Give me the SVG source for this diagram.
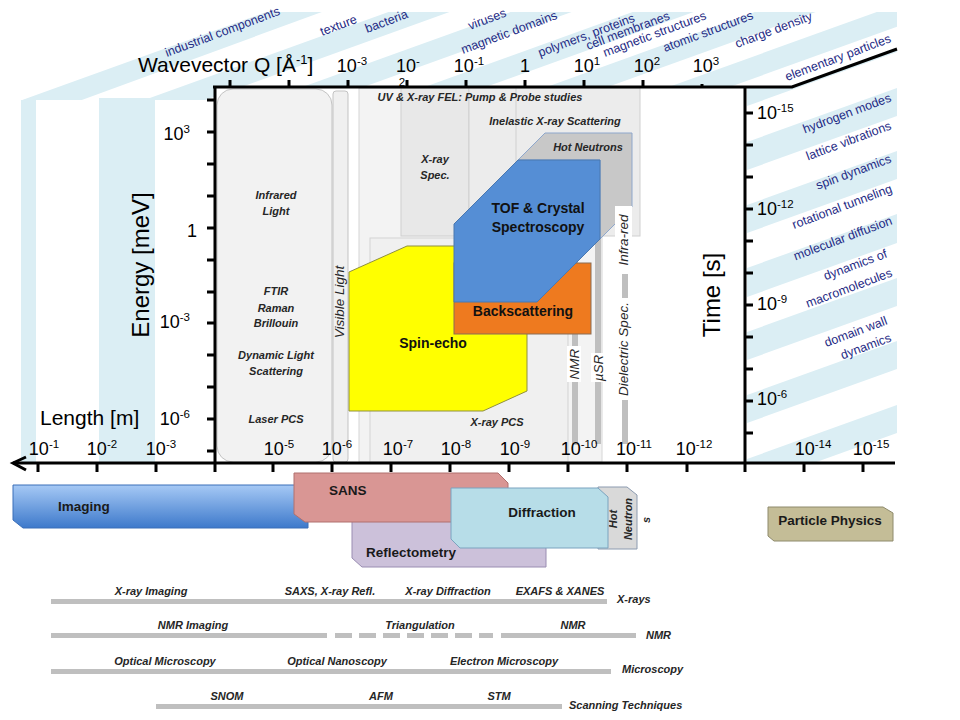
<svg xmlns="http://www.w3.org/2000/svg" width="960" height="720" viewBox="0 0 960 720">
<defs>
<style>
text{font-family:"Liberation Sans",Arial,sans-serif}
.ax{font-size:18px;fill:#000}
.sp{font-size:11.5px}
.ttl{font-size:24px;fill:#000}
.nv{font-size:12.5px;fill:#1f2b85}
.it{font-size:11px;font-style:italic;font-weight:bold;fill:#262626}
.iv{font-size:13.5px;font-style:italic;fill:#262626}
.bd{font-size:13.5px;font-weight:bold;fill:#1a1a1a}
.pb{font-size:14px;font-weight:bold;fill:#111}
.ln{stroke:#000;stroke-width:3;fill:none}
.bar{fill:#bfbfbf}
.lb{fill:#dbeef4}
</style>
<linearGradient id="gImg" x1="0" y1="0" x2="0" y2="1"><stop offset="0" stop-color="#a6c9f5"/><stop offset="1" stop-color="#3d79cb"/></linearGradient>
<clipPath id="cTop"><polygon points="21,100 247,12 897,12 897,49 792,87 215,87 215,100"/></clipPath>
<clipPath id="cRight"><polygon points="747,88 792,88 897,50 897,463 747,463"/></clipPath>
</defs>
<rect width="960" height="720" fill="#fff"/>

<g id="bands">
<rect class="lb" x="21" y="100" width="15" height="363"/>
<rect class="lb" x="99" y="98" width="56" height="365"/>
<g clip-path="url(#cTop)">
<polygon class="lb" points="0,108 960,-238 960,-222 0,130"/>
<polygon class="lb" points="0,152 960,-194 960,-172 0,174"/>
<polygon class="lb" points="0,196 960,-150 960,-128 0,218"/>
<polygon class="lb" points="0,240 960,-106 960,-84 0,262"/>
<polygon class="lb" points="0,284 960,-62 960,-40 0,306"/>
<polygon class="lb" points="0,328 960,-18 960,4 0,350"/>
</g>
<g clip-path="url(#cRight)">
<polygon class="lb" points="747,78 897,24 897,52 747,106"/>
<polygon class="lb" points="747,142 897,88 897,116 747,170"/>
<polygon class="lb" points="747,205 897,151 897,179 747,233"/>
<polygon class="lb" points="747,268 897,214 897,243 747,297"/>
<polygon class="lb" points="747,332 897,278 897,306 747,360"/>
<polygon class="lb" points="747,395 897,341 897,369 747,423"/>
<polygon class="lb" points="747,459 897,405 897,433 747,487"/>
</g>
</g>

<g id="scale-labels">
<text class="nv" transform="translate(167,57) rotate(-20.5)">industrial  components</text>
<text class="nv" transform="translate(322,36) rotate(-20.5)">texture</text>
<text class="nv" transform="translate(367,33) rotate(-20.5)">bacteria</text>
<text class="nv" transform="translate(470,30) rotate(-20.5)">viruses</text>
<text class="nv" transform="translate(463,54) rotate(-20.5)">magnetic domains</text>
<text class="nv" transform="translate(540,57) rotate(-20.5)">polymers, proteins</text>
<text class="nv" transform="translate(588,50) rotate(-20.5)">cell membranes</text>
<text class="nv" transform="translate(605,57) rotate(-20.5)">magnetic structures</text>
<text class="nv" transform="translate(665,52) rotate(-20.5)">atomic structures</text>
<text class="nv" transform="translate(737,48) rotate(-20.5)">charge density</text>
<text class="nv" transform="translate(787,81) rotate(-20.5)">elementary  particles</text>
<text class="nv" text-anchor="end" transform="translate(892,101) rotate(-20.5)">hydrogen  modes</text>
<text class="nv" text-anchor="end" transform="translate(892,129) rotate(-20.5)">lattice vibrations</text>
<text class="nv" text-anchor="end" transform="translate(892,162) rotate(-20.5)">spin dynamics</text>
<text class="nv" text-anchor="end" transform="translate(893,192) rotate(-20.5)">rotational tunneling</text>
<text class="nv" text-anchor="end" transform="translate(893,224) rotate(-20.5)">molecular diffusion</text>
<text class="nv" text-anchor="end" transform="translate(888,257) rotate(-20.5)">dynamics of</text>
<text class="nv" text-anchor="end" transform="translate(893,276) rotate(-20.5)">macromolecules</text>
<text class="nv" text-anchor="end" transform="translate(888,324) rotate(-20.5)">domain wall</text>
<text class="nv" text-anchor="end" transform="translate(892,341) rotate(-20.5)">dynamics</text>
</g>

<g id="plot-regions">
<rect id="fel" x="359" y="88" width="243" height="374" fill="#f3f3f3" stroke="#d6d6d6"/>
<rect id="xpcs" x="370" y="238" width="198" height="224" fill="#f0f0f0" stroke="#d3d3d3"/>
<rect id="xspec" x="401" y="88" width="68" height="148" fill="#e8e8e8" stroke="#cfcfcf"/>
<rect id="inel" x="469" y="88" width="171" height="148" fill="#ececec" stroke="#d0d0d0"/>
<line x1="516" y1="88" x2="516" y2="236" stroke="#d0d0d0"/>
<rect id="infrared" x="217" y="89" width="115" height="373" rx="16" fill="#f2f2f2" stroke="#c3c3c3"/>
<rect id="visible" x="333" y="91" width="15" height="371" rx="3" fill="#f0f0f0" stroke="#c3c3c3"/>
</g>

<g id="vbars">
<rect class="bar" x="572" y="236" width="6" height="209"/>
<rect class="bar" x="595" y="237" width="6" height="207"/>
<rect class="bar" x="622" y="202" width="6" height="242"/>
</g>

<g id="hot-neutrons-plot">
<polygon points="545,133 632,133 632,207 600,239 600,160 518,160" fill="#c8c8c8" stroke="#8ea7cc"/>
</g>
<g id="spin-echo">
<polygon points="349,272 407,246 527,246 527,391 483,411 349,411" fill="#ffff00" stroke="#8f8f40"/>
</g>
<g id="backscattering">
<rect x="454" y="263" width="137" height="71" fill="#ee7a1f" stroke="#8a6d55"/>
</g>
<g id="tof">
<polygon points="518,160 600,160 600,239 537,302 454,302 454,224" fill="#558ed5" stroke="#4a78b0"/>
</g>

<g id="plot-labels">
<text class="it" x="480" y="101" text-anchor="middle">UV &amp; X-ray FEL: Pump &amp; Probe studies</text>
<text class="it" x="555" y="125" text-anchor="middle">Inelastic X-ray Scattering</text>
<text class="it" x="588" y="151" text-anchor="middle">Hot Neutrons</text>
<text class="it" x="435" y="163" text-anchor="middle">X-ray</text>
<text class="it" x="435" y="179" text-anchor="middle">Spec.</text>
<text class="it" x="276" y="199" text-anchor="middle">Infrared</text>
<text class="it" x="276" y="215" text-anchor="middle">Light</text>
<text class="it" x="276" y="295" text-anchor="middle">FTIR</text>
<text class="it" x="276" y="312" text-anchor="middle">Raman</text>
<text class="it" x="276" y="327" text-anchor="middle">Brillouin</text>
<text class="it" x="276" y="359" text-anchor="middle">Dynamic Light</text>
<text class="it" x="276" y="375" text-anchor="middle">Scattering</text>
<text class="it" x="276" y="423" text-anchor="middle">Laser PCS</text>
<text class="it" x="497" y="426" text-anchor="middle">X-ray PCS</text>
<text class="iv" text-anchor="middle" transform="translate(344,302) rotate(-90)">Visible  Light</text>
<rect x="567" y="346" width="14" height="36" fill="#fff"/>
<text class="iv" text-anchor="middle" transform="translate(579,364) rotate(-90)">NMR</text>
<rect x="591" y="353" width="14" height="29" fill="#fff"/>
<text class="iv" text-anchor="middle" transform="translate(603,368) rotate(-90)">µSR</text>
<rect x="615" y="298" width="17" height="102" fill="#fff"/>
<text class="iv" text-anchor="middle" transform="translate(628,349) rotate(-90)">Dielectric Spec.</text>
<rect x="615" y="206" width="17" height="68" fill="#fff"/>
<text class="iv" text-anchor="middle" transform="translate(628,240) rotate(-90)">Infra-red</text>
<text class="pb" x="538" y="213" text-anchor="middle" fill="#0f1d3d">TOF &amp; Crystal</text>
<text class="pb" x="538" y="232" text-anchor="middle" fill="#0f1d3d">Spectroscopy</text>
<text class="pb" x="523" y="316" text-anchor="middle">Backscattering</text>
<text class="pb" x="433" y="348" text-anchor="middle">Spin-echo</text>
</g>

<g id="axes">
<polyline class="ln" points="213,87 792,87 897,49"/>
<line class="ln" x1="215" y1="86" x2="215" y2="472"/>
<line class="ln" x1="745" y1="86" x2="745" y2="472"/>
<line class="ln" x1="13" y1="463" x2="895" y2="463"/>
<polyline class="ln" points="26,457 13,463 26,470"/>
<path class="ln" d="M230,87V80M289,87V80M348,87V80M407,87V80M466,87V80M525,87V80M584,87V80M643,87V80M702,87V84"/>
<path class="ln" d="M207,100H215M207,132H215M207,164H215M207,196H215M207,228H215M207,260H215M207,292H215M207,323H215M207,355H215M207,387H215M207,419H215M207,451H215"/>
<path class="ln" d="M745,113H753M745,145H753M745,177H753M745,209H753M745,241H753M745,273H753M745,305H753M745,337H753M745,369H753M745,401H753M745,433H753"/>
<path class="ln" d="M38,463V472M97,463V472M156,463V472M273,463V472M332,463V472M391,463V472M450,463V472M509,463V472M568,463V472M627,463V472M687,463V472M804,463V472M863,463V472"/>
</g>

<g id="axis-labels">
<text x="138" y="72" style="font-size:21px;fill:#000">Wavevector Q [Å<tspan style="font-size:13px" dy="-8">-1</tspan><tspan dy="8">]</tspan></text>
<text class="ax" x="352" y="72" text-anchor="middle">10<tspan class="sp" dy="-7">-3</tspan></text>
<text class="ax" x="408" y="72" text-anchor="middle">10<tspan class="sp" dy="-7">-</tspan></text>
<text class="sp" x="402" y="86" text-anchor="middle">2</text>
<text class="ax" x="469" y="72" text-anchor="middle">10<tspan class="sp" dy="-7">-1</tspan></text>
<text class="ax" x="525" y="72" text-anchor="middle">1</text>
<text class="ax" x="587" y="72" text-anchor="middle">10<tspan class="sp" dy="-7">1</tspan></text>
<text class="ax" x="647" y="72" text-anchor="middle">10<tspan class="sp" dy="-7">2</tspan></text>
<text class="ax" x="706" y="72" text-anchor="middle">10<tspan class="sp" dy="-7">3</tspan></text>
<text class="ttl" text-anchor="middle" transform="translate(149,265) rotate(-90)">Energy [meV]</text>
<text class="ax" x="190" y="140" text-anchor="end">10<tspan class="sp" dy="-7">3</tspan></text>
<text class="ax" x="197" y="237" text-anchor="end">1</text>
<text class="ax" x="190" y="328" text-anchor="end">10<tspan class="sp" dy="-7">-3</tspan></text>
<text class="ax" x="190" y="425" text-anchor="end">10<tspan class="sp" dy="-7">-6</tspan></text>
<text x="40" y="425" style="font-size:21px;fill:#000">Length [m]</text>
<text class="ttl" text-anchor="middle" transform="translate(720,295) rotate(-90)">Time [s]</text>
<text class="ax" x="757" y="119">10<tspan class="sp" dy="-7">-15</tspan></text>
<text class="ax" x="757" y="215">10<tspan class="sp" dy="-7">-12</tspan></text>
<text class="ax" x="757" y="310">10<tspan class="sp" dy="-7">-9</tspan></text>
<text class="ax" x="757" y="405">10<tspan class="sp" dy="-7">-6</tspan></text>
<text class="ax" x="44" y="455" text-anchor="middle">10<tspan class="sp" dy="-7">-1</tspan></text>
<text class="ax" x="102" y="455" text-anchor="middle">10<tspan class="sp" dy="-7">-2</tspan></text>
<text class="ax" x="161" y="455" text-anchor="middle">10<tspan class="sp" dy="-7">-3</tspan></text>
<text class="ax" x="279" y="455" text-anchor="middle">10<tspan class="sp" dy="-7">-5</tspan></text>
<text class="ax" x="337" y="455" text-anchor="middle">10<tspan class="sp" dy="-7">-6</tspan></text>
<text class="ax" x="398" y="455" text-anchor="middle">10<tspan class="sp" dy="-7">-7</tspan></text>
<text class="ax" x="456" y="455" text-anchor="middle">10<tspan class="sp" dy="-7">-8</tspan></text>
<text class="ax" x="515" y="455" text-anchor="middle">10<tspan class="sp" dy="-7">-9</tspan></text>
<text class="ax" x="579" y="455" text-anchor="middle">10<tspan class="sp" dy="-7">-10</tspan></text>
<text class="ax" x="634" y="455" text-anchor="middle">10<tspan class="sp" dy="-7">-11</tspan></text>
<text class="ax" x="694" y="455" text-anchor="middle">10<tspan class="sp" dy="-7">-12</tspan></text>
<text class="ax" x="813" y="455" text-anchor="middle">10<tspan class="sp" dy="-7">-14</tspan></text>
<text class="ax" x="871" y="455" text-anchor="middle">10<tspan class="sp" dy="-7">-15</tspan></text>
</g>

<g id="imaging">
<path d="M13,485H308V528H23L13,520Z" fill="url(#gImg)" stroke="#3b6fb8"/>
<text class="bd" x="58" y="511">Imaging</text>
</g>
<g id="reflectometry">
<path d="M352,515H546V567H362L352,558Z" fill="#ccc1da" stroke="#9a8db2"/>
<text class="bd" x="366" y="557">Reflectometry</text>
</g>
<g id="sans">
<path d="M294,473H498L508,483V522H305L294,514Z" fill="#d99694" stroke="#b0706e"/>
<text class="bd" x="329" y="495">SANS</text>
</g>
<g id="hot-neutrons">
<path d="M598,487H627L637,495V549H598Z" fill="#d9d9d9" stroke="#8c9bb0"/>
<text class="it" text-anchor="middle" transform="translate(617,519) rotate(-90)">Hot</text>
<text class="it" text-anchor="middle" transform="translate(632,519) rotate(-90)">Neutron</text>
<text class="it" text-anchor="middle" transform="translate(650,520) rotate(-90)">s</text>
</g>
<g id="diffraction">
<path d="M451,488H598L608,497V548H460L451,539Z" fill="#b7dde8" stroke="#7aa3bf"/>
<text class="bd" x="542" y="517" text-anchor="middle">Diffraction</text>
</g>
<g id="particle-physics">
<path d="M768,507H883L893,513V541H774L768,536Z" fill="#c4bd97" stroke="#8e8a6c"/>
<text class="bd" x="830" y="525" text-anchor="middle">Particle Physics</text>
</g>

<g id="techniques">
<rect class="bar" x="51" y="599" width="556" height="5"/>
<text class="it" x="151" y="595" text-anchor="middle">X-ray Imaging</text>
<text class="it" x="330" y="595" text-anchor="middle">SAXS, X-ray Refl.</text>
<text class="it" x="448" y="595" text-anchor="middle">X-ray Diffraction</text>
<text class="it" x="560" y="595" text-anchor="middle">EXAFS &amp; XANES</text>
<text class="it" x="617" y="603">X-rays</text>
<rect class="bar" x="51" y="633" width="276" height="5"/>
<path d="M335,635.5H493" stroke="#bfbfbf" stroke-width="5" stroke-dasharray="17,7"/>
<rect class="bar" x="501" y="633" width="135" height="5"/>
<text class="it" x="193" y="629" text-anchor="middle">NMR Imaging</text>
<text class="it" x="420" y="629" text-anchor="middle">Triangulation</text>
<text class="it" x="573" y="629" text-anchor="middle">NMR</text>
<text class="it" x="646" y="639">NMR</text>
<rect class="bar" x="51" y="669" width="560" height="5"/>
<text class="it" x="165" y="665" text-anchor="middle">Optical Microscopy</text>
<text class="it" x="337" y="665" text-anchor="middle">Optical Nanoscopy</text>
<text class="it" x="504" y="665" text-anchor="middle">Electron Microscopy</text>
<text class="it" x="622" y="673">Microscopy</text>
<rect class="bar" x="156" y="704" width="406" height="5"/>
<text class="it" x="227" y="700" text-anchor="middle">SNOM</text>
<text class="it" x="381" y="700" text-anchor="middle">AFM</text>
<text class="it" x="499" y="700" text-anchor="middle">STM</text>
<text class="it" x="569" y="709">Scanning Techniques</text>
</g>
</svg>
